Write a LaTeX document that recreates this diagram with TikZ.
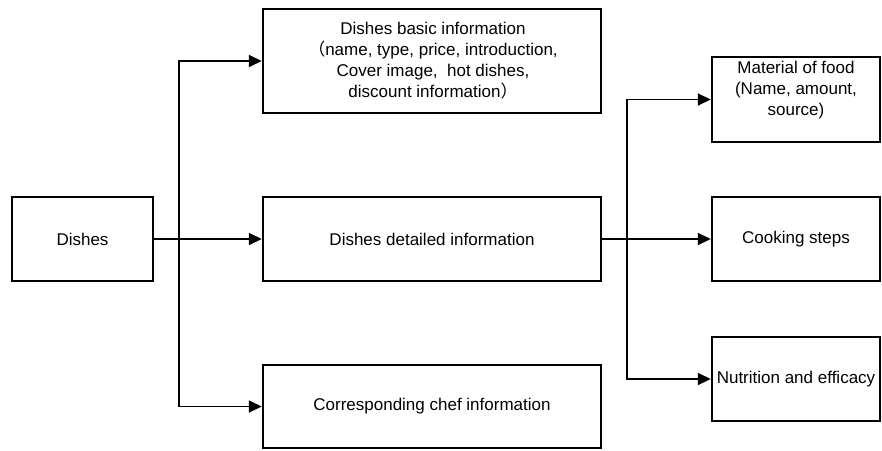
\documentclass[tikz,border=0pt]{standalone}
\usepackage{fontspec}
\setmainfont{Liberation Sans}
\newfontfamily\cjk{Noto Sans CJK SC}
\usetikzlibrary{arrows.meta}
\tikzset{
  box/.style={draw=black, line width=2.4pt, fill=white, rectangle, inner sep=0pt, align=center,
    font=\fontsize{17}{21}\selectfont},
  txt/.style={inner sep=0pt, align=center, font=\fontsize{17}{21}\selectfont},
  conn/.style={draw=black, line width=1.6pt, -{Triangle[length=13pt,width=12pt]}},
  stub/.style={draw=black, line width=2.4pt},
}
\begin{document}
\begin{tikzpicture}[x=1pt,y=-1pt]
\useasboundingbox (0,0) rectangle (882,450);
% left column
\node[box, minimum width=141pt, minimum height=84pt] (dishes) at (82.5,239) {Dishes};
% middle column
\node[box, minimum width=338pt, minimum height=104pt] (basic) at (432,61) {};
\node[txt] (basictext) at (433,61) {Dishes basic information\\{\cjk（}name, type, price, introduction,\\Cover image,\ \ hot dishes,\\discount information{\cjk）}};
\node[box, minimum width=338pt, minimum height=84pt] (detail) at (432,239) {Dishes detailed information};
\node[box, minimum width=338pt, minimum height=83pt] (chef) at (432,406.5) {Corresponding chef information};
% right column
\node[box, minimum width=168pt, minimum height=85pt] (material) at (796,99.5) {};
\node[txt] (materialtext) at (796,90) {Material of food\\(Name, amount,\\source)};
\node[box, minimum width=168pt, minimum height=84pt] (cooking) at (796,239) {Cooking steps};
\node[box, minimum width=168pt, minimum height=84pt] (nutrition) at (796,379) {Nutrition and efficacy};
% junctions
\coordinate (j1) at (179,239);
\coordinate (j2) at (627,239);
% connectors from Dishes
\draw[stub] (dishes.east) -- (j1);
\draw[conn] (j1) |- (basic.west);
\draw[conn] (j1) -- (detail.west);
\draw[conn] (j1) |- (chef.west);
% connectors from detailed information
\draw[stub] (detail.east) -- (j2);
\draw[conn] (j2) |- (material.west);
\draw[conn] (j2) -- (cooking.west);
\draw[conn] (j2) |- (nutrition.west);
\end{tikzpicture}
\end{document}
